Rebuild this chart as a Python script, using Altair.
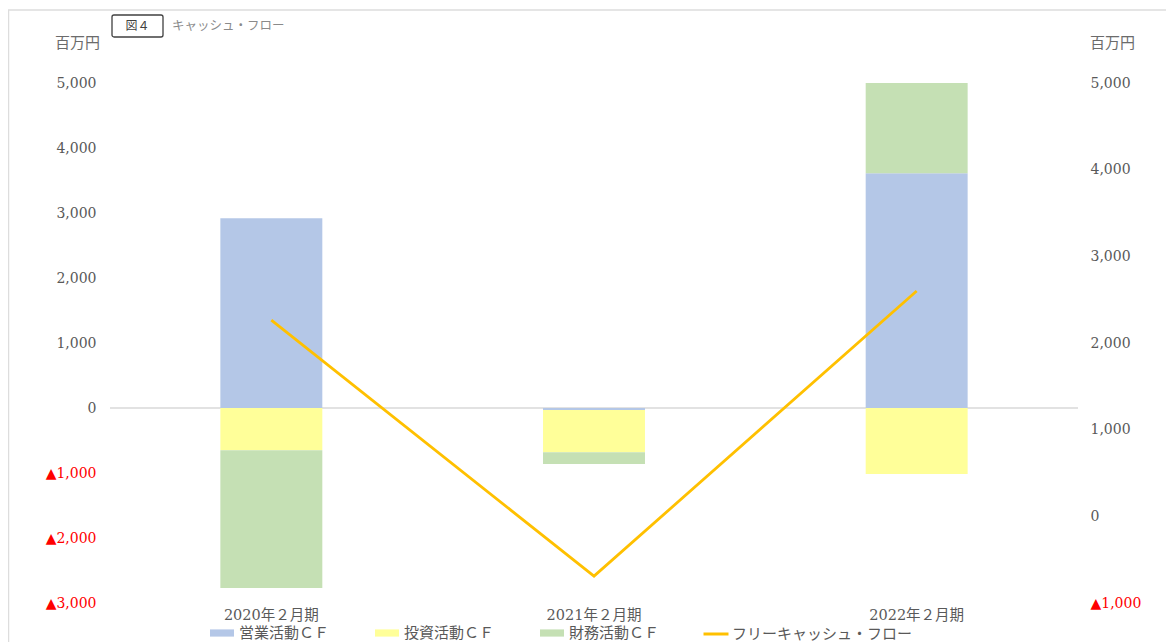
import altair as alt
import pandas as pd

# ---- data ----
categories = ["2020年２月期", "2021年２月期", "2022年２月期"]
series = ["営業活動ＣＦ", "投資活動ＣＦ", "財務活動ＣＦ"]
operating_cf = [2920, -30, 3610]
investing_cf = [-650, -650, -1015]
financing_cf = [-2120, -180, 1390]
free_cf = [2265, -690, 2600]
line_name = "フリーキャッシュ・フロー"
left_ticks = [-3000, -2000, -1000, 0, 1000, 2000, 3000, 4000, 5000]
right_ticks = [-1000, 0, 1000, 2000, 3000, 4000, 5000]
unit_label = "百万円"
fig_label = "図４"
fig_title = "キャッシュ・フロー"

bar_colors = ["#B4C7E7", "#FFFF99", "#C5E0B4"]
line_color = "#FFC000"

rows = []
for i, c in enumerate(categories):
    for j, vals in enumerate([operating_cf, investing_cf, financing_cf]):
        rows.append({"period": c, "series": series[j], "value": vals[i], "order": j})
bars_df = pd.DataFrame(rows)
line_df = pd.DataFrame({"period": categories, "value": free_cf, "series": [line_name] * len(categories)})

NUM_FONT = "DejaVu Serif, Noto Sans CJK JP"
JP_FONT = "Noto Sans CJK JP"
GRAY = "#595959"
label_expr = "datum.value < 0 ? '▲' + format(-datum.value, ',') : format(datum.value, ',')"
label_color = {"condition": {"test": "datum.value < 0", "value": "#FF0000"}, "value": GRAY}

x_enc = alt.X(
    "period:N", sort=categories, title=None,
    scale=alt.Scale(paddingInner=0.684, paddingOuter=0.342),
    axis=alt.Axis(labelAngle=0, domain=False, ticks=False, labelPadding=5,
                  labelFont=NUM_FONT, labelFontSize=14.5, labelColor=GRAY),
)

bars = alt.Chart(bars_df).mark_bar().encode(
    x=x_enc,
    y=alt.Y(
        "value:Q", stack="zero",
        scale=alt.Scale(domain=[-3000, 5000], nice=False, zero=True),
        axis=alt.Axis(values=left_ticks, labelExpr=label_expr, labelColor=label_color,
                      grid=False, domain=False, ticks=False, labelPadding=14,
                      labelFont=NUM_FONT, labelFontSize=14,
                      title=unit_label, titleAngle=0, titleX=-33, titleY=-41,
                      titleAlign="center", titleBaseline="middle",
                      titleFont=JP_FONT, titleFontSize=15, titleFontWeight="normal",
                      titleColor="#6b6b6b"),
    ),
    color=alt.Color(
        "series:N",
        scale=alt.Scale(domain=series, range=bar_colors),
        legend=alt.Legend(
            title=None, orient="none", legendX=100, legendY=538, direction="horizontal",
            symbolType="M-1,-0.3H1V0.3H-1Z", symbolSize=576, symbolStrokeWidth=0,
            labelFont=JP_FONT, labelFontSize=15, labelColor=GRAY, labelOffset=5,
            columnPadding=45, padding=0, labelLimit=300,
        ),
    ),
    order=alt.Order("order:Q"),
)

zero = alt.Chart(pd.DataFrame({"v": [0]})).mark_rule(color="#D9D9D9", strokeWidth=1.5).encode(
    y=alt.Y("v:Q")
)

left = alt.layer(zero, bars)

line = alt.Chart(line_df).mark_line(strokeWidth=2.8).encode(
    x=x_enc,
    y=alt.Y(
        "value:Q",
        scale=alt.Scale(domain=[-1000, 5000], nice=False),
        axis=alt.Axis(orient="right", values=right_ticks, labelExpr=label_expr,
                      labelColor=label_color, grid=False, domain=False, ticks=False,
                      labelPadding=12, labelFont=NUM_FONT, labelFontSize=14,
                      title=unit_label, titleAngle=0, titleX=34, titleY=-41,
                      titleAlign="center", titleBaseline="middle",
                      titleFont=JP_FONT, titleFontSize=15, titleFontWeight="normal",
                      titleColor="#6b6b6b"),
    ),
    stroke=alt.Stroke(
        "series:N",
        scale=alt.Scale(domain=[line_name], range=[line_color]),
        legend=alt.Legend(
            title=None, orient="none", legendX=592, legendY=537,
            symbolType="stroke", symbolSize=625, symbolStrokeWidth=3,
            symbolStrokeColor=line_color,
            labelFont=JP_FONT, labelFontSize=15, labelColor=GRAY, labelOffset=2,
            padding=0, labelLimit=400,
        ),
    ),
)

one = alt.Data(values=[{}])
frame = alt.Chart(one).mark_rect(fill="transparent", stroke="#DDDDDD", strokeWidth=1.5).encode(
    x=alt.value(-101.5), x2=alt.value(1080), y=alt.value(-73), y2=alt.value(600)
)
box = alt.Chart(one).mark_rect(fill="white", stroke="#404040", strokeWidth=1.3, cornerRadius=2).encode(
    x=alt.value(2), x2=alt.value(53), y=alt.value(-68), y2=alt.value(-46)
)
box_text = alt.Chart(one).mark_text(font=JP_FONT, fontSize=12, color="#404040",
                                    align="center", baseline="middle").encode(
    x=alt.value(27.5), y=alt.value(-57), text=alt.value(fig_label)
)
title_text = alt.Chart(one).mark_text(font=JP_FONT, fontSize=12.5, color="#8a8a8a",
                                      align="left", baseline="middle").encode(
    x=alt.value(62), y=alt.value(-57), text=alt.value(fig_title)
)

chart = alt.layer(frame, left, line, box, box_text, title_text).resolve_scale(
    y="independent", color="independent", stroke="independent"
).properties(
    width=968, height=520,
    background="white",
    autosize=alt.AutoSizeParams(type="none"),
    padding={"left": 102, "top": 75, "right": 88, "bottom": 39},
).configure_view(stroke=None)

chart.save("out.html", embed_options={"renderer": "svg", "actions": False})
